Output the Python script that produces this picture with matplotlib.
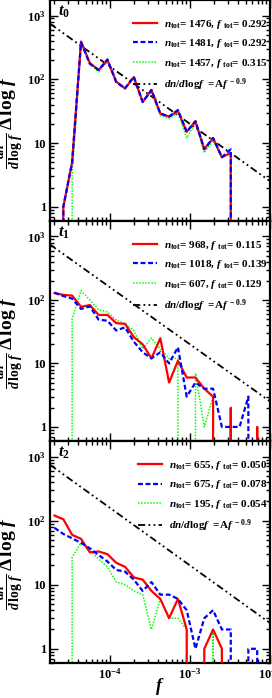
import numpy as np
import matplotlib
matplotlib.use("Agg")
import matplotlib.pyplot as plt
from matplotlib.ticker import FixedLocator, FixedFormatter, LogLocator, NullFormatter

plt.rcParams['font.family'] = ['Liberation Serif', 'DejaVu Serif']
plt.rcParams['font.weight'] = 'bold'
plt.rcParams['mathtext.fontset'] = 'custom'
plt.rcParams['mathtext.rm'] = 'Liberation Serif:bold'
plt.rcParams['mathtext.bf'] = 'Liberation Serif:bold'
plt.rcParams['mathtext.it'] = 'Liberation Serif:italic'
plt.rcParams['mathtext.default'] = 'it'

# bin centres (f)
f_bins = [2.05e-5, 2.64e-5, 3.40e-5, 4.39e-5, 5.65e-5, 7.28e-5, 9.37e-5,
          1.207e-4, 1.555e-4, 2.00e-4, 2.58e-4, 3.32e-4, 4.28e-4, 5.51e-4,
          7.10e-4, 9.14e-4, 1.175e-3, 1.514e-3, 1.950e-3, 2.51e-3, 3.24e-3,
          4.17e-3, 5.37e-3, 6.92e-3, 8.91e-3]

# t0
t0_red   = [0, 1, 5, 390, 180, 140, 200, 92, 72, 108, 44, 68, 29, 26, 32, 15, 22, 8, 12, 6, 7, 0, 0, 0, 0]
t0_blue  = [0, 1, 5, 380, 175, 140, 205, 90, 72, 110, 44, 68, 29, 26, 33, 15, 22, 8, 12, 6, 8, 0, 0, 0, 0]
t0_green = [0, 0, 3, 390, 175, 130, 195, 90, 72, 105, 45, 64, 27, 24, 30, 12, 21, 7, 11, 6, 7, 0, 0, 0, 0]
# t1
t1_red   = [128, 120, 117, 78, 83, 58, 58, 43, 42, 26, 20, 12, 25, 5, 11, 6, 6, 4, 3, 0, 2, 0, 0, 1, 0]
t1_blue  = [130, 115, 105, 72, 79, 49, 47, 33, 37, 22, 15, 12, 15, 10, 18, 3, 5, 4, 4, 1, 1, 1, 3, 0, 0]
t1_green = [0, 0, 50, 140, 100, 70, 65, 48, 42, 33, 17, 25, 17, 12, 12, 0, 7, 1, 3, 0, 0, 0, 0, 0, 0]
# t2
t2_red   = [120, 105, 60, 52, 32, 33, 30, 22, 19, 13, 12, 8, 6, 3, 6, 2, 0, 1, 2, 1, 0, 0, 0, 0, 0]
t2_blue  = [77, 62, 53, 45, 37, 29, 23, 17, 16, 12, 8, 11, 7, 7, 6, 4, 1, 3, 4, 2, 2, 0, 1, 1, 0]
t2_green = [0, 0, 27, 45, 35, 25, 19, 11, 10, 8, 7, 2, 6, 3, 3, 2, 0, 0, 2, 0, 0, 0, 0, 0, 0]

panel_names = ["t_{0}", "t_{1}", "t_{2}"]
n_tot = [[1476, 1481, 1457], [968, 1018, 607], [655, 675, 195]]
f_tot = [["0.292", "0.292", "0.315"], ["0.115", "0.139", "0.129"], ["0.050", "0.078", "0.054"]]
series = [[t0_red, t0_blue, t0_green], [t1_red, t1_blue, t1_green], [t2_red, t2_blue, t2_green]]

A_pl = 0.04
slope_pl = -0.9
f_pl = [1.8e-5, 1.0e-2]

colors = ['#ff0000', '#0000ff', '#00ff00']
styles = [dict(ls='-', lw=1.6, zorder=3),
          dict(ls=(0, (2.2, 1.2)), lw=1.6, zorder=4),
          dict(ls=(0, (1, 1)), lw=1.1, zorder=2)]

fig = plt.figure(figsize=(2.72, 6.98), dpi=100)
L = 50 / 272
W = 220 / 272
panel_px = [(0, 221), (221, 441), (441, 663)]

for i, (top, bot) in enumerate(panel_px):
    ax = fig.add_axes([L, 1 - bot / 698, W, (bot - top) / 698])
    ax.set_xscale('log', nonpositive='clip')
    ax.set_yscale('log', nonpositive='clip')
    handles = []
    for j in range(3):
        lab = (r"$n_{\rm tot}$= %d, $f$ $_{\rm tot}$= %s" % (n_tot[i][j], f_tot[i][j]))
        h, = ax.plot(f_bins, series[i][j], color=colors[j], label=lab, **styles[j])
        handles.append(h)
    fp = np.array(f_pl)
    h, = ax.plot(fp, A_pl * fp ** slope_pl, color='black', lw=1.3,
                 ls=(0, (4, 1.8, 1, 1.8, 1, 1.8)), zorder=1,
                 label=r"$dn/d$$\mathbf{log}$$f$  =A$f^{\ -0.9}$")
    handles.append(h)
    ax.set_xlim(1.8e-5, 1.0e-2)
    ax.set_ylim(0.6, 1750)
    for s in ax.spines.values():
        s.set_linewidth(1.6)
    ax.tick_params(which='both', direction='in', top=True, right=True, width=1)
    ax.tick_params(which='major', length=6, labelsize=9, pad=3)
    ax.tick_params(which='minor', length=3)
    ax.yaxis.set_major_locator(FixedLocator([1, 10, 100, 1000]))
    ax.yaxis.set_major_formatter(FixedFormatter(["1", "10", r"$\mathrm{10^{2}}$", r"$\mathrm{10^{3}}$"]))
    ax.yaxis.set_minor_locator(LogLocator(base=10, subs=np.arange(2, 10)))
    ax.yaxis.set_minor_formatter(NullFormatter())
    ax.xaxis.set_major_locator(FixedLocator([1e-4, 1e-3, 1e-2]))
    ax.xaxis.set_minor_locator(LogLocator(base=10, subs=np.arange(2, 10)))
    ax.xaxis.set_minor_formatter(NullFormatter())
    if i == 2:
        ax.xaxis.set_major_formatter(FixedFormatter([r"$\mathrm{10^{-4}}$", r"$\mathrm{10^{-3}}$", r"$\mathrm{10^{-2}}$"]))
        ax.set_xlabel(r"$f$", fontsize=13, labelpad=-4)
    else:
        ax.xaxis.set_major_formatter(NullFormatter())
    ax.set_ylabel(r"$\frac{dn}{d\,\log\,f}\,\Delta\,\log\,f$", fontsize=14)
    ax.yaxis.set_label_coords(-0.11, 0.45)
    ax.text(0.035, 0.985, r"$%s$" % panel_names[i], transform=ax.transAxes,
            va='top', ha='left', fontsize=12)
    ax.legend(handles=handles, loc='upper right', bbox_to_anchor=(1.01, 0.94),
              frameon=False, fontsize=8, handlelength=2.2, handletextpad=0.6,
              labelspacing=0.6, borderaxespad=0)

fig.savefig("out.png", dpi=100)
